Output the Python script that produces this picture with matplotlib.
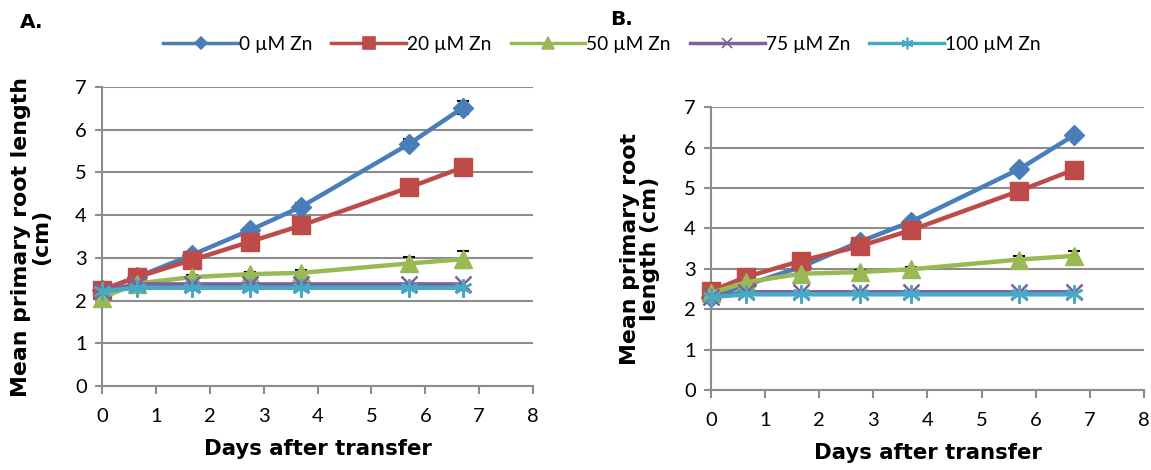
import matplotlib.pyplot as plt
from matplotlib.lines import Line2D

days = [0, 0.65, 1.67, 2.75, 3.7, 5.7, 6.7]
series_names = ["0 µM Zn", "20 µM Zn", "50 µM Zn", "75 µM Zn", "100 µM Zn"]

# panel A
a_zn0 = [2.25, 2.55, 3.07, 3.65, 4.2, 5.67, 6.52]
a_zn20 = [2.25, 2.55, 2.95, 3.38, 3.76, 4.65, 5.12]
a_zn50 = [2.07, 2.4, 2.55, 2.62, 2.65, 2.87, 2.97]
a_zn75 = [2.22, 2.38, 2.38, 2.38, 2.38, 2.38, 2.38]
a_zn100 = [2.22, 2.3, 2.3, 2.3, 2.3, 2.3, 2.3]
a_err0 = [0.03, 0.04, 0.05, 0.06, 0.08, 0.12, 0.16]
a_err50 = [0.03, 0.03, 0.06, 0.06, 0.07, 0.15, 0.2]

# panel B
b_zn0 = [2.3, 2.6, 3.05, 3.67, 4.17, 5.47, 6.3]
b_zn20 = [2.45, 2.8, 3.2, 3.56, 3.96, 4.93, 5.45]
b_zn50 = [2.4, 2.67, 2.88, 2.92, 2.99, 3.23, 3.32]
b_zn75 = [2.3, 2.42, 2.42, 2.42, 2.42, 2.42, 2.42]
b_zn100 = [2.3, 2.37, 2.37, 2.37, 2.37, 2.37, 2.37]
b_err0 = [0.02, 0.03, 0.04, 0.04, 0.05, 0.06, 0.08]
b_err50 = [0.02, 0.03, 0.04, 0.04, 0.05, 0.1, 0.12]

colors = ["#4A7EBB", "#BE4B48", "#98B954", "#7D60A0", "#46AAC5"]
markers = ["D", "s", "^", "x", (6, 2, 0)]
msizes = [10, 13, 13, 12, 13]

tick_font = "Lato"
label_font = "DejaVu Sans"
grid_col = "#8C8C8C"

fig = plt.figure(figsize=(11.51, 4.70), dpi=100)
ax_a = fig.add_axes([0.0886, 0.1787, 0.3745, 0.636])
ax_b = fig.add_axes([0.6177, 0.170, 0.3762, 0.602])


def draw_panel(ax, values, err0, err50, ylabel):
    for i, vals in enumerate(values):
        err = None
        if i == 0:
            err = err0
        elif i == 2:
            err = err50
        if err is not None:
            ax.errorbar(days, vals, yerr=err, fmt="none", ecolor="black",
                        elinewidth=1, capsize=4, capthick=1.5, zorder=2)
        ax.plot(days, vals, color=colors[i], marker=markers[i], markersize=msizes[i],
                markeredgewidth=1.8 if i >= 3 else 1, markeredgecolor=colors[i],
                linewidth=3.2, zorder=3 + i * 0.1, clip_on=False)
    ax.set_xlim(0, 8)
    ax.set_ylim(0, 7)
    ax.set_xticks(range(0, 9))
    ax.set_yticks(range(0, 8))
    ax.grid(axis="y", color=grid_col, linewidth=1.5)
    ax.set_axisbelow(True)
    for s in ["top", "right"]:
        ax.spines[s].set_visible(False)
    for s in ["left", "bottom"]:
        ax.spines[s].set_color(grid_col)
        ax.spines[s].set_linewidth(1.5)
    ax.tick_params(axis="x", direction="out", length=6, width=1.5, color=grid_col, pad=10)
    ax.tick_params(axis="y", direction="out", length=5, width=1.5, color=grid_col, pad=6)
    for lab in ax.get_xticklabels() + ax.get_yticklabels():
        lab.set_fontfamily(tick_font)
        lab.set_fontsize(14.5)
    ax.set_xlabel("Days after transfer", fontfamily=label_font, fontweight="bold",
                  fontsize=15.3, labelpad=10)
    ax.set_ylabel(ylabel, fontfamily=label_font, fontweight="bold", fontsize=15.8,
                  labelpad=17, linespacing=1.0)


draw_panel(ax_a, [a_zn0, a_zn20, a_zn50, a_zn75, a_zn100], a_err0, a_err50,
           "Mean primary root length\n(cm)")
draw_panel(ax_b, [b_zn0, b_zn20, b_zn50, b_zn75, b_zn100], b_err0, b_err50,
           "Mean primary root\nlength (cm)")

handles = [Line2D([], [], color=colors[i], marker=markers[i], markersize=msizes[i] * 0.65,
                  markeredgewidth=1.2, linewidth=2.5) for i in range(5)]
fig.legend(handles, series_names, loc="center", bbox_to_anchor=(0.523, 0.905), ncol=5,
           frameon=False, prop={"family": tick_font, "size": 13.8},
           handlelength=3.9, handletextpad=0.05, columnspacing=1.0)

fig.text(0.017, 0.953, "A.", fontfamily=label_font, fontweight="bold", fontsize=14.5, va="center")
fig.text(0.530, 0.958, "B.", fontfamily=label_font, fontweight="bold", fontsize=14.5, va="center")

fig.savefig("out.png", dpi=100)
